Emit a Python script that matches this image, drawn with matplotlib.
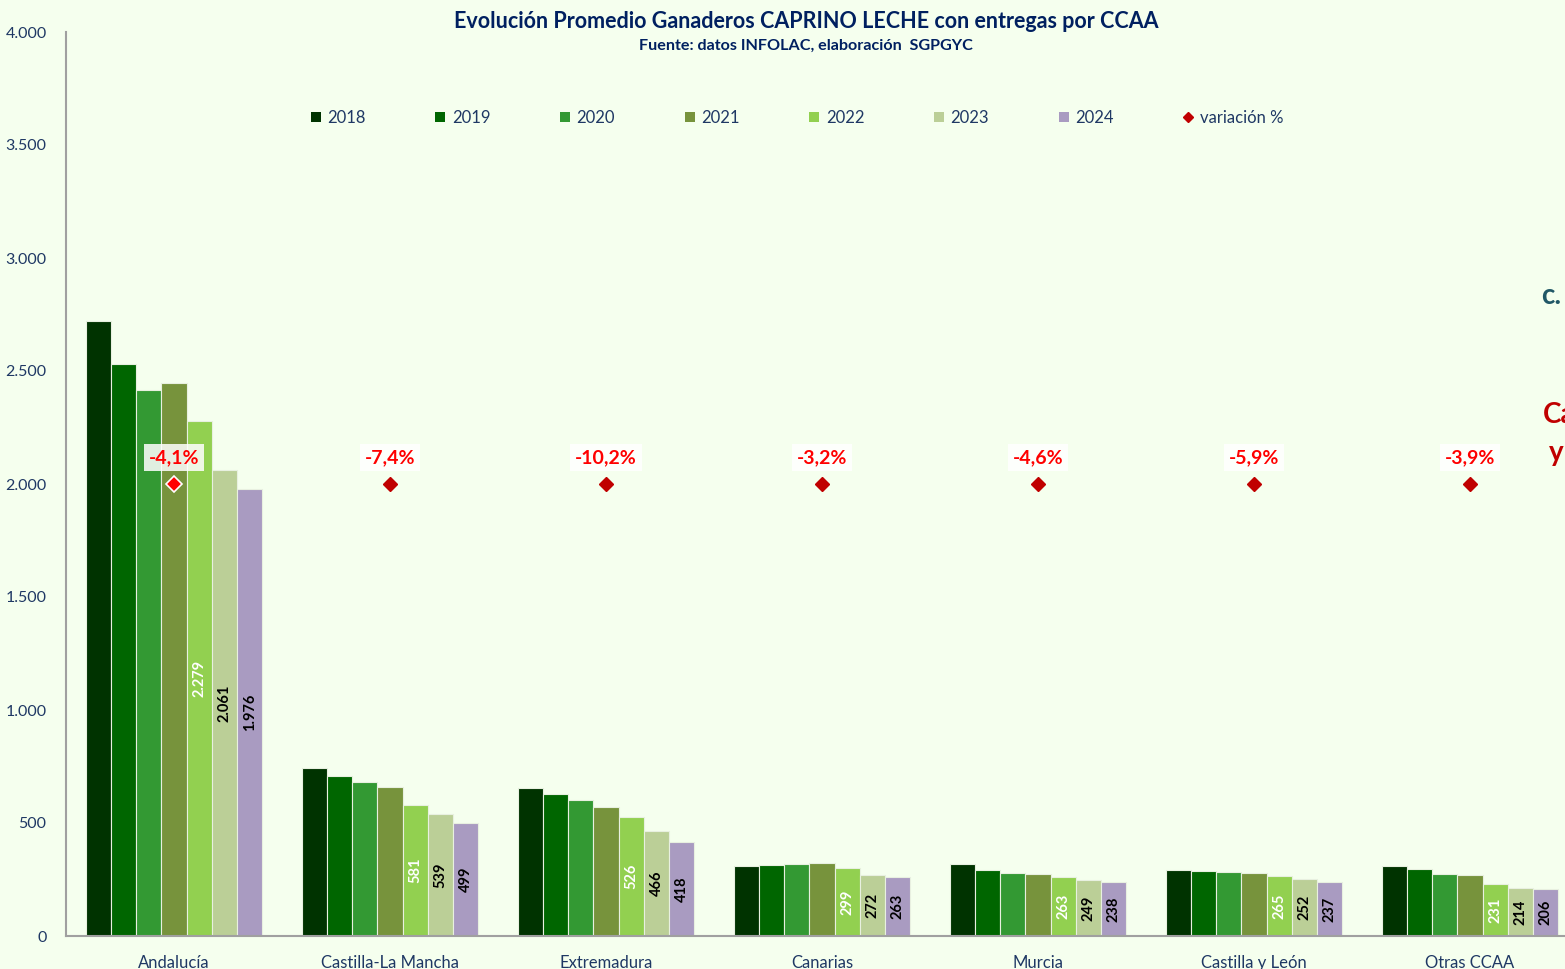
import matplotlib
matplotlib.use("Agg")
import matplotlib.pyplot as plt
from matplotlib.lines import Line2D
from matplotlib.patches import Patch
import numpy as np

plt.rcParams['font.family'] = ['Lato', 'DejaVu Sans']

categories = ["Andalucía", "Castilla-La Mancha", "Extremadura", "Canarias",
              "Murcia", "Castilla y León", "Otras CCAA"]
years = ["2018", "2019", "2020", "2021", "2022", "2023", "2024"]
v2018 = [2721, 743, 655, 310, 319, 292, 310]
v2019 = [2531, 708, 628, 314, 292, 288, 297]
v2020 = [2416, 681, 602, 319, 279, 283, 274]
v2021 = [2447, 659, 571, 323, 274, 279, 270]
v2022 = [2279, 581, 526, 299, 263, 265, 231]
v2023 = [2061, 539, 466, 272, 249, 252, 214]
v2024 = [1976, 499, 418, 263, 238, 237, 206]
variacion = [-4.1, -7.4, -10.2, -3.2, -4.6, -5.9, -3.9]
marker_level = 2000  # level at which the variation markers sit

series = [v2018, v2019, v2020, v2021, v2022, v2023, v2024]
colors = ["#003300", "#006600", "#339933", "#77933C", "#92D050", "#BBCF97", "#A99BC1"]
label_colors = {4: "white", 5: "black", 6: "black"}

navy = "#1F3864"
bg = "#F5FFEE"

fig = plt.figure(figsize=(15.65, 9.69), dpi=100, facecolor=bg)
ax = fig.add_axes([66/1565, 33/969, 1512/1565, 904/969], facecolor=bg)

x = np.arange(len(categories))
bw = 0.117
for i, (vals, c) in enumerate(zip(series, colors)):
    pos = x + (i - 3) * bw
    ax.bar(pos, vals, width=bw, color=c, edgecolor="#E8F0E0", linewidth=0.8, zorder=2)
    if i in label_colors:
        for p, v in zip(pos, vals):
            ax.text(p, v / 2, f"{v:,}".replace(",", "."), rotation=90, ha="center", va="center",
                    color=label_colors[i], fontsize=10.5, fontweight="bold", zorder=4)

# variation markers and labels
for k, (xi, pv) in enumerate(zip(x, variacion)):
    if k == 0:
        ax.plot(xi, marker_level, marker="D", ms=8, color="#FF0000", mec="white", mew=1.2, zorder=5)
    else:
        ax.plot(xi, marker_level, marker="D", ms=7, color="#C00000", mec="#C00000", zorder=5)
    ax.annotate(f"{pv:.1f}%".replace(".", ","), (xi, marker_level), xytext=(0, 19),
                textcoords="offset points", ha="center", va="center", color="#FF0000",
                fontsize=14, fontweight="bold", zorder=6,
                bbox=dict(boxstyle="square,pad=0.25", fc="white", ec="none", alpha=0.85))

ax.set_xlim(-0.5, 6.5)
ax.set_ylim(0, 4000)
ax.set_yticks(np.arange(0, 4001, 500))
ax.set_yticklabels([f"{t:,}".replace(",", ".") for t in range(0, 4001, 500)], color=navy, fontsize=11.5)
ax.set_xticks(x)
ax.set_xticklabels(categories, color=navy, fontsize=12)
ax.tick_params(axis="x", length=0, pad=14)
ax.tick_params(axis="y", length=0, pad=14)
for s in ["top", "right"]:
    ax.spines[s].set_visible(False)
for s in ["left", "bottom"]:
    ax.spines[s].set_color("#A0A0A0")
    ax.spines[s].set_linewidth(1.5)

# title
fig.text(806/1565, 1 - 21/969, "Evolución Promedio Ganaderos CAPRINO LECHE con entregas por CCAA",
         ha="center", va="center", color="#002060", fontsize=15.5, fontweight="bold")
fig.text(806/1565, 1 - 46/969, "Fuente: datos INFOLAC, elaboración  SGPGYC",
         ha="center", va="center", color="#002060", fontsize=11.6, fontweight="bold")

# legend
handles = [Patch(facecolor=c, edgecolor="none", label=y) for c, y in zip(colors, years)]
handles.append(Line2D([], [], marker="D", color="#C00000", linestyle="none", ms=5.5, label="variación %"))
leg = fig.legend(handles=handles, loc="center", bbox_to_anchor=(797/1565, 1 - 118/969), ncol=8,
                 frameon=False, fontsize=12, handlelength=0.6, handleheight=0.6, handletextpad=0.4,
                 columnspacing=4.17)
for t in leg.get_texts():
    t.set_color(navy)

# clipped text at right edge (cut off in the reference as well)
fig.text(1541/1565, 1 - 296/969, "c.", color="#215867", fontsize=20, fontweight="bold", ha="left", va="center")
fig.text(1543/1565, 1 - 415/969, "Ca", color="#C00000", fontsize=20, fontweight="bold", ha="left", va="center")
fig.text(1549/1565, 1 - 453/969, "y", color="#C00000", fontsize=20, fontweight="bold", ha="left", va="center")

fig.savefig("out.png", dpi=100, facecolor=bg)
